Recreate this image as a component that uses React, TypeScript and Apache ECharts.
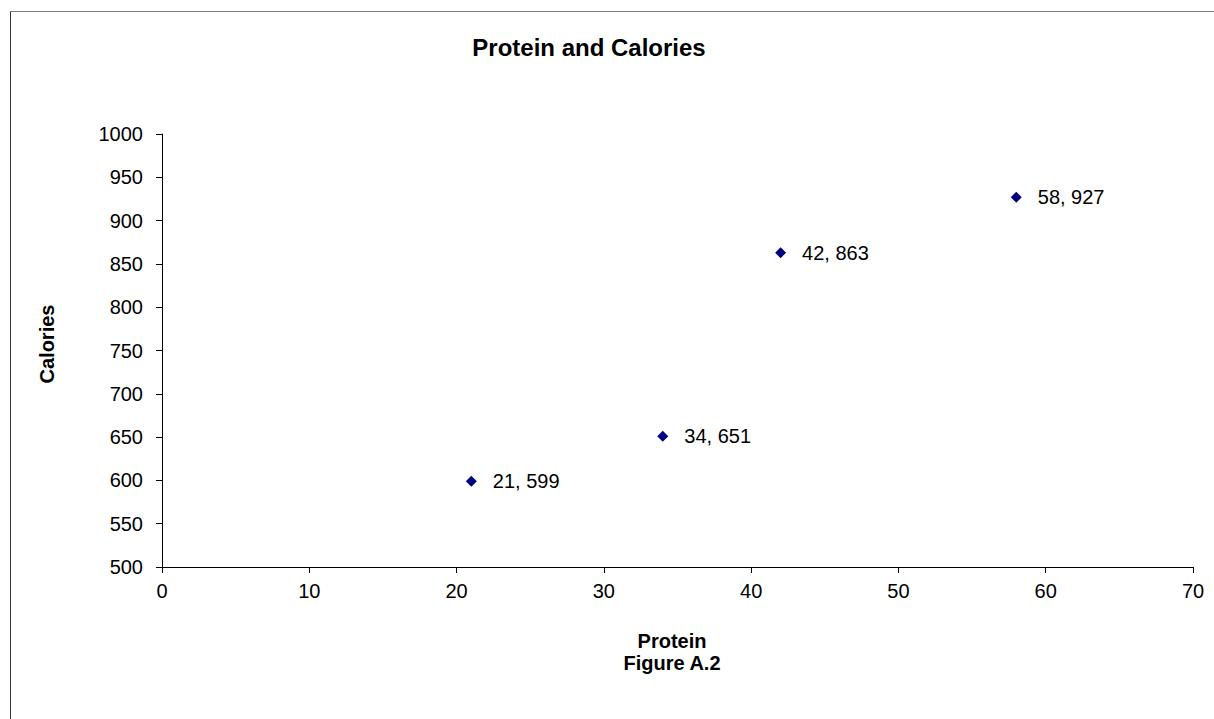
import React, { useEffect, useRef } from "react";
import * as echarts from "echarts";

const protein = [21, 34, 42, 58];
const calories = [599, 651, 863, 927];
const titleText = "Protein and Calories";
const xName = "Protein";
const figureText = "Figure A.2";
const yName = "Calories";

export default function App() {
  const ref = useRef<HTMLDivElement>(null);
  useEffect(() => {
    document.body.style.margin = "0";
    const chart = echarts.init(ref.current!, null, { renderer: "svg" });
    const font = "Arial, 'Liberation Sans', sans-serif";
    chart.setOption({
      animation: false,
      backgroundColor: "#ffffff",
      grid: { left: 162, right: 21, top: 134, bottom: 152 },
      xAxis: {
        type: "value",
        min: 0,
        max: 70,
        interval: 10,
        axisLine: { show: true, lineStyle: { color: "#000", width: 1 } },
        axisTick: { show: true, length: 6, lineStyle: { color: "#000" } },
        splitLine: { show: false },
        axisLabel: { color: "#000", fontSize: 20, fontFamily: font, margin: 14, formatter: (v: number) => String(v) },
      },
      yAxis: {
        type: "value",
        min: 500,
        max: 1000,
        interval: 50,
        axisLine: { show: true, lineStyle: { color: "#000", width: 1 } },
        axisTick: { show: true, length: 6, lineStyle: { color: "#000" } },
        splitLine: { show: false },
        axisLabel: { color: "#000", fontSize: 20, fontFamily: font, margin: 19, formatter: (v: number) => String(v) },
      },
      series: [
        {
          type: "scatter",
          symbol: "diamond",
          symbolSize: 11,
          itemStyle: { color: "#000080", opacity: 1 },
          data: protein.map((p, i) => [p, calories[i]]),
          label: {
            show: true,
            position: "right",
            distance: 16,
            color: "#000",
            fontSize: 20,
            fontFamily: font,
            formatter: (p: any) => `${p.value[0]}, ${p.value[1]}`,
          },
        },
      ],
      graphic: [
        {
          type: "line",
          shape: { x1: 10.5, y1: 11.5, x2: 1214, y2: 11.5 },
          style: { stroke: "#7f7f7f", lineWidth: 1 },
          silent: true,
        },
        {
          type: "line",
          shape: { x1: 10.5, y1: 11.5, x2: 10.5, y2: 719 },
          style: { stroke: "#333333", lineWidth: 1 },
          silent: true,
        },
        {
          type: "text",
          x: 589,
          y: 47,
          style: {
            text: titleText,
            font: `bold 24px ${font}`,
            fill: "#000",
            textAlign: "center",
            textVerticalAlign: "middle",
          },
        },
        {
          type: "text",
          x: 672,
          y: 641,
          style: {
            text: xName,
            font: `bold 20px ${font}`,
            fill: "#000",
            textAlign: "center",
            textVerticalAlign: "middle",
          },
        },
        {
          type: "text",
          x: 672,
          y: 663,
          style: {
            text: figureText,
            font: `bold 20px ${font}`,
            fill: "#000",
            textAlign: "center",
            textVerticalAlign: "middle",
          },
        },
        {
          type: "text",
          x: 47,
          y: 344,
          rotation: Math.PI / 2,
          style: {
            text: yName,
            font: `bold 20px ${font}`,
            fill: "#000",
            textAlign: "center",
            textVerticalAlign: "middle",
          },
        },
      ],
    });
    return () => chart.dispose();
  }, []);
  return <div ref={ref} style={{ width: 1214, height: 719, position: "absolute", left: 0, top: 0 }} />;
}
